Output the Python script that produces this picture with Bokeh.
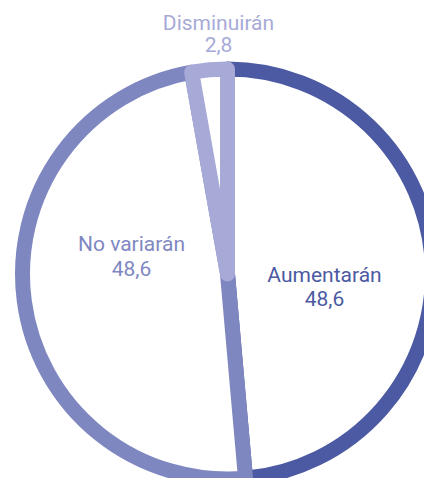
import math
from bokeh.plotting import figure
from bokeh.models import ColumnDataSource, Range1d
from bokeh.core.properties import value
from bokeh.embed import file_html
from bokeh.resources import INLINE

# ---- data ----
categories = ["Aumentarán", "No variarán", "Disminuirán"]
values = [48.6, 48.6, 2.8]
value_labels = ["48,6", "48,6", "2,8"]

# ---- styles / layout ----
colors = ["#4b5aa2", "#7f87c1", "#a7aad7"]
CX, CY, R = 227, 204.5, 205        # pie centre / radius (screen px units)
label_dx = [97, -96, -9]           # label offsets from centre
name_dy = [-0.5, 30.5, 251.5]
val_dy = [-24.5, 5.5, 229.5]

total = sum(values)
starts, ends = [], []
a = math.pi / 2
for v in values:
    starts.append(a)
    a -= v / total * 2 * math.pi
    ends.append(a)

src = ColumnDataSource(dict(
    x=[CX] * 3, y=[CY] * 3, start=starts, end=ends, color=colors,
    name=categories, val=value_labels,
    lx=[CX + d for d in label_dx],
    ny=[CY + d for d in name_dy],
    vy=[CY + d for d in val_dy],
))

p = figure(width=424, height=478, output_backend="svg", toolbar_location=None,
           x_range=Range1d(0, 424), y_range=Range1d(0, 478), min_border=0,
           background_fill_color="white", border_fill_color="white")
p.axis.visible = False
p.grid.visible = False
p.outline_line_color = None

p.wedge(x="x", y="y", radius=R, start_angle="start", end_angle="end",
        direction="clock", fill_color="white", line_color="color",
        line_width=15, line_join="round", source=src)

p.text(x="lx", y="ny", text="name", text_color="color", text_align="center",
       text_baseline="alphabetic", text_font=value("Roboto"),
       text_font_size="21px", source=src)
p.text(x="lx", y="vy", text="val", text_color="color", text_align="center",
       text_baseline="alphabetic", text_font=value("Roboto"),
       text_font_size="21px", source=src)

open("out.html", "w").write(file_html(p, INLINE))
